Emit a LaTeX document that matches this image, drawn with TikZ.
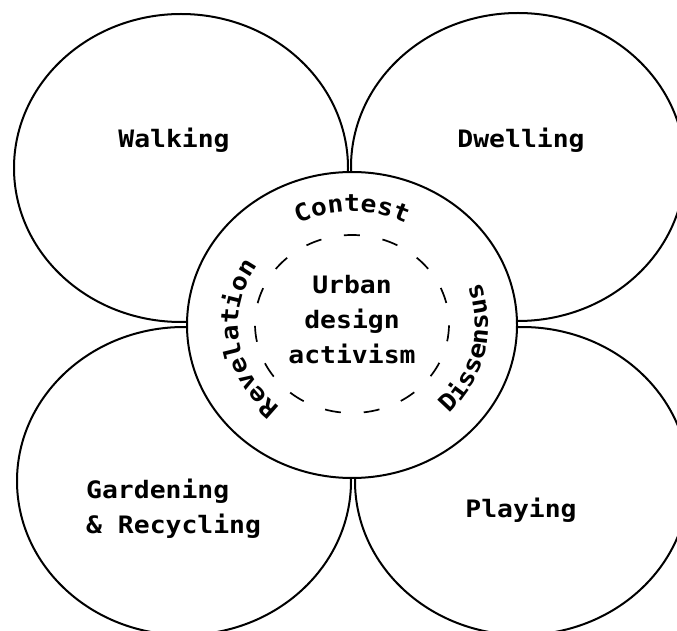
\documentclass[tikz,border=0pt]{standalone}
\usepackage{fontspec}
\newfontfamily\diagfont{DejaVu Sans Mono}[FakeStretch=1.1]
\usetikzlibrary{shapes.geometric,decorations.text}
\newcommand{\curvefont}{\diagfont\bfseries\fontsize{24}{28}\selectfont}
\begin{document}
\begin{tikzpicture}[x=1pt,y=1pt,
  petal/.style={ellipse, draw, line width=2pt, inner sep=0pt, minimum width=334pt, minimum height=308pt},
  hub/.style={ellipse, draw, fill=white, line width=2pt, inner sep=0pt, minimum width=330pt, minimum height=306pt},
  ring/.style={ellipse, draw, line width=1.7pt, inner sep=0pt, minimum width=194pt, minimum height=178pt, dash pattern=on 16pt off 23pt, dash phase=17.75pt},
  lbl/.style={font=\diagfont\bfseries\fontsize{24}{35}\selectfont, inner sep=0pt},
  arctext/.style={decorate, decoration={text along path, text align=center, text={|\curvefont|#1}}}
]
\useasboundingbox (0,0) rectangle (677,630);
\fill[white] (0,0) rectangle (677,630);
\node[petal] (walk) at (181,462) {};
\node[petal] (dwell) at (518,463) {};
\node[petal] (garden) at (184,149) {};
\node[petal] (play) at (522,149) {};
\node[hub] (hub) at (352,305) {};
\node[ring] (ring) at (352,306) {};
\node[lbl, anchor=base] (walkl) at (174,482) {Walking};
\node[lbl, anchor=base] (dwelll) at (521,482) {Dwelling};
\node[lbl, anchor=base] (playl) at (521,113) {Playing};
\node[lbl, anchor=base west, align=left] (gardenl) at (86,97) {Gardening\\\& Recycling};
\node[lbl, anchor=base, align=center] (hubl) at (352,267) {Urban\\design\\activism};
\path[arctext=Contest] ([shift={(hub.center)}]150:122pt and 113pt) arc[start angle=150, end angle=30, x radius=122pt, y radius=113pt];
\path[arctext=Revelation] ([shift={(hub.center)}]262:114pt and 106pt) arc[start angle=262, end angle=114, x radius=114pt, y radius=106pt];
\path[arctext=Dissensus] ([shift={(hub.center)}]-80:136pt and 126pt) arc[start angle=-80, end angle=56, x radius=136pt, y radius=126pt];
\end{tikzpicture}
\end{document}
